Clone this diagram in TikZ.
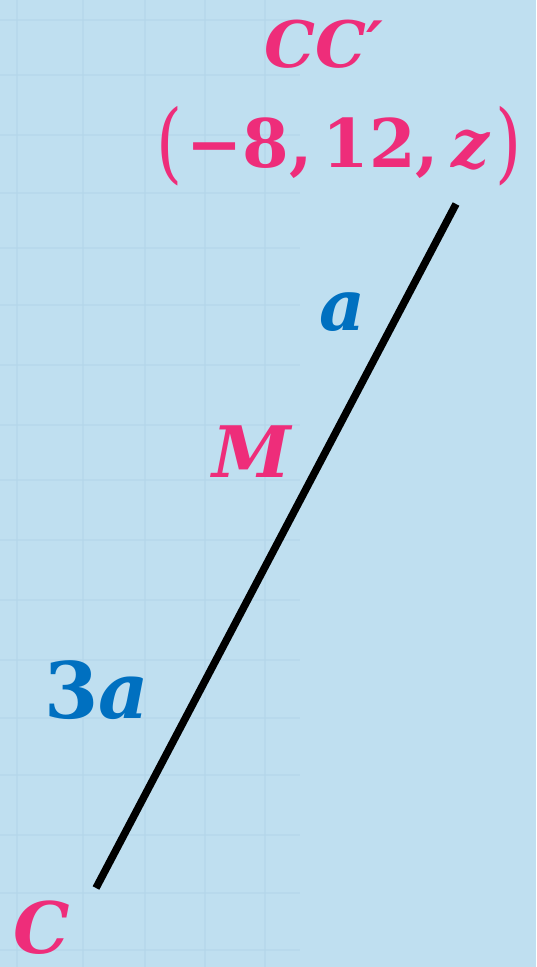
\documentclass[tikz,border=0pt]{standalone}
\usepackage{fontspec}
\usepackage{graphicx}
\setmainfont{DejaVu Serif}
\definecolor{bg}{HTML}{BFDFF0}
\definecolor{gridc}{HTML}{B4D6EA}
\definecolor{pinkc}{HTML}{EE2D7A}
\definecolor{bluec}{HTML}{0070C0}
\tikzset{
  lbl/.style={inner sep=0pt, font=\fontsize{71}{71}\selectfont\bfseries\itshape},
  pinklbl/.style={lbl, text=pinkc},
  bluelbl/.style={lbl, text=bluec},
}
\newcommand{\tallparen}[1]{\raisebox{-5pt}{\scalebox{1}[1.3]{\mdseries #1}}}
\begin{document}
\begin{tikzpicture}[x=1pt,y=-1pt]
\fill[bg] (0,0) rectangle (536,967);
\useasboundingbox (0,0) rectangle (536,967);
\begin{scope}[gridc, line width=2pt, opacity=0.6]
\foreach \x in {17,83,145,205,265} \draw (\x,0) -- (\x,967);
\foreach \y in {20,75,135,193,248,305,365,425,480,540,600,660,718,775,835,893,950} \draw (0,\y) -- (300,\y);
\end{scope}
\coordinate (C) at (96,888);
\coordinate (Cp) at (456,204);
\draw[line width=7.5pt] (C) -- (Cp);
\node[pinklbl, font=\fontsize{64}{64}\selectfont\bfseries\itshape] (tCC) at (324,44) {CC′};
\node[pinklbl, font=\fontsize{67}{67}\selectfont\bfseries] (tco) at (339,146) {\tallparen{(}\hspace{4pt}−8,\hspace{10pt}12,\hspace{12pt}\textit{z}\hspace{5pt}\tallparen{)}};
\node[bluelbl] (ta) at (342,312) {a};
\node[pinklbl] (tM) at (252,452) {M};
\node[bluelbl, font=\fontsize{78}{78}\selectfont\bfseries\itshape] (t3a) at (97,690) {\upshape 3\itshape a};
\node[pinklbl] (tC) at (42,928) {C};
\end{tikzpicture}
\end{document}
